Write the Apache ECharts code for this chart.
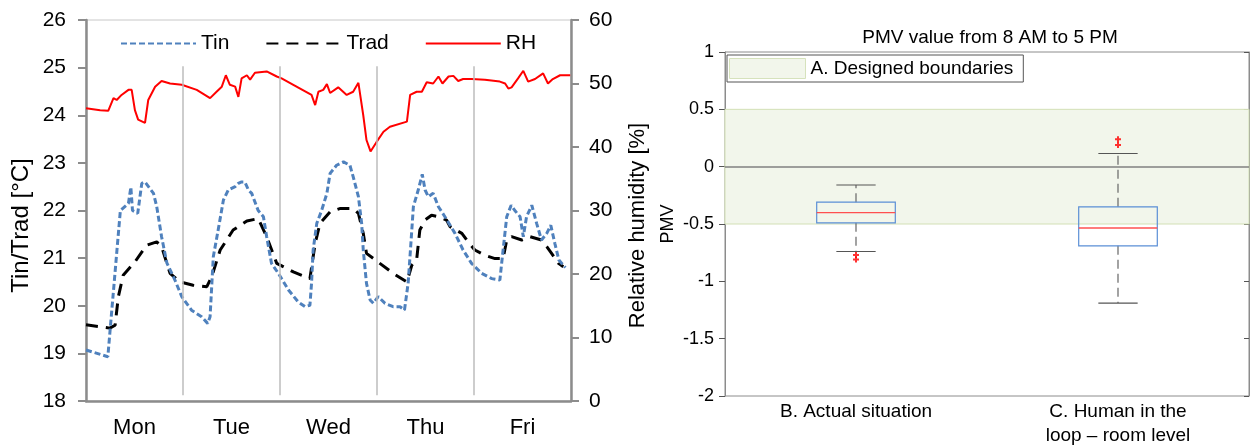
<!DOCTYPE html>
<html>
<head>
<meta charset="utf-8">
<script src="https://cdn.jsdelivr.net/npm/echarts@6/dist/echarts.min.js"></script>
<style>
  html, body { margin: 0; padding: 0; background: #fff; }
  #chart { width: 1250px; height: 448px; }
</style>
</head>
<body>
<div id="chart"></div>
<script>
// time axis in hours from Monday 00:00 (5 days)
var dayNames = ["Mon", "Tue", "Wed", "Thu", "Fri"];
var daySeparators = [24, 48, 72, 96];

// [hour, value]
var tin = [
  [0, 19.07], [5.4, 18.93], [8.5, 22.0], [10.5, 22.15], [11.1, 22.49], [11.5, 22.0],
  [12.8, 21.94], [13.8, 22.57], [14.6, 22.6], [16.7, 22.36], [17.5, 22.08], [18.7, 21.45],
  [20.0, 20.9], [22.0, 20.54], [23.7, 20.19], [26.2, 19.9], [28.6, 19.77], [30.1, 19.63],
  [30.7, 19.77], [31.5, 21.03], [32.7, 21.59], [34.0, 22.22], [35.2, 22.43], [36.9, 22.5],
  [37.7, 22.57], [38.5, 22.6], [39.3, 22.6], [40.2, 22.43], [41.0, 22.36], [42.6, 22.0],
  [43.9, 21.87], [44.7, 21.45], [45.9, 20.89], [47.6, 20.68], [50.1, 20.33], [52.5, 20.08],
  [54.2, 19.98], [55.4, 20.01], [55.8, 20.47], [56.2, 21.17], [57.1, 21.73], [58.3, 22.0],
  [59.6, 22.36], [60.4, 22.78], [62.0, 22.95], [63.7, 23.02], [65.3, 22.95], [66.1, 22.71],
  [67.4, 22.29], [68.2, 21.73], [68.6, 21.17], [69.4, 20.47], [70.3, 20.12], [71.1, 20.05],
  [72.3, 20.19], [74.0, 20.05], [76.0, 19.98], [77.7, 19.98], [78.8, 19.91], [79.7, 20.47],
  [80.3, 21.2], [81.0, 22.08], [82.2, 22.43], [83.2, 22.76], [83.9, 22.43], [84.7, 22.29],
  [85.9, 22.36], [87.2, 22.08], [88.8, 21.87], [91.3, 21.52], [93.3, 21.17], [95.4, 20.89],
  [97.9, 20.68], [100.4, 20.57], [102.4, 20.54], [103.2, 21.17], [104.1, 21.87], [105.2, 22.11],
  [106.1, 22.0], [107.4, 21.87], [108.2, 21.45], [109.0, 21.87], [110.3, 22.11], [111.5, 21.73],
  [112.7, 21.38], [114.0, 21.52], [115.0, 21.69], [116.0, 21.31], [117.0, 20.96], [118.6, 20.8]
];

var trad = [
  [0, 19.6], [5.9, 19.53], [7.2, 19.59], [8.0, 20.19], [9.2, 20.64], [12.1, 20.92],
  [15.0, 21.27], [17.5, 21.34], [18.7, 21.24], [20.8, 20.68], [23.3, 20.5], [26.5, 20.43],
  [29.9, 20.4], [31.1, 20.61], [33.2, 21.17], [36.4, 21.59], [39.8, 21.78], [42.6, 21.83],
  [44.7, 21.45], [47.2, 20.89], [51.3, 20.71], [55.4, 20.57], [56.7, 21.31], [57.9, 21.73],
  [60.4, 21.97], [62.8, 22.04], [66.1, 22.04], [67.4, 21.94], [68.6, 21.52], [69.4, 21.1],
  [72.7, 20.89], [76.0, 20.68], [79.4, 20.5], [80.6, 20.85], [81.8, 20.96], [82.6, 21.59],
  [83.9, 21.8], [85.5, 21.9], [87.2, 21.87], [89.2, 21.8], [90.1, 21.66], [93.0, 21.52],
  [94.2, 21.38], [96.2, 21.17], [98.7, 21.06], [101.2, 20.99], [103.2, 20.99], [104.1, 21.38],
  [105.3, 21.45], [107.8, 21.38], [109.9, 21.45], [112.7, 21.38], [114.0, 21.24], [115.2, 21.1],
  [116.9, 20.89], [118.1, 20.82]
];

var rh = [
  [0, 46.1], [3.5, 45.8], [5.5, 45.7], [6.8, 47.7], [7.6, 47.4], [8.8, 48.2], [10.5, 49.0],
  [11.3, 49.0], [12.1, 45.8], [12.9, 44.3], [14.6, 43.8], [15.4, 47.4], [17.1, 49.5],
  [18.7, 50.4], [20.8, 50.0], [23.7, 49.8], [27.4, 49.0], [30.7, 47.7], [32.3, 48.7],
  [33.6, 49.5], [34.6, 51.3], [35.6, 49.8], [36.9, 49.5], [37.7, 47.9], [38.5, 50.8],
  [39.8, 51.3], [40.6, 50.6], [41.8, 51.7], [44.7, 51.9], [47.2, 51.1], [48.4, 50.8],
  [51.3, 49.8], [55.8, 48.2], [56.7, 46.6], [57.5, 48.7], [58.7, 49.0], [59.6, 49.9],
  [60.4, 48.5], [62.4, 49.4], [64.5, 48.2], [66.1, 48.7], [67.4, 50.1], [68.6, 45.0],
  [69.4, 41.1], [70.4, 39.3], [71.9, 40.8], [73.6, 42.4], [75.2, 43.2], [79.4, 44.0],
  [80.2, 48.2], [81.8, 48.7], [83.1, 48.7], [84.3, 50.2], [85.9, 50.0], [87.2, 51.1],
  [88.2, 50.0], [89.7, 51.1], [90.9, 51.2], [92.1, 50.4], [93.3, 50.7], [95.4, 50.7],
  [98.7, 50.6], [102.4, 50.3], [103.7, 50.0], [104.5, 49.2], [105.3, 49.4], [106.9, 50.8],
  [108.2, 52.0], [109.4, 50.3], [111.1, 50.7], [113.1, 51.6], [114.3, 50.0], [115.5, 50.7],
  [117.3, 51.3], [119.8, 51.3]
];

// PMV boxplot: [low whisker, q1, median, q3, high whisker]
var pmvCategories = ["B. Actual situation", "C. Human in the\nloop \u2013 room level"];
var pmvBoxes = [
  [-0.74, -0.49, -0.40, -0.31, -0.16],
  [-1.19, -0.69, -0.535, -0.35, 0.115]
];
var pmvOutliers = [[0, -0.77], [0, -0.81], [1, 0.24], [1, 0.19]];
var comfortBand = [-0.5, 0.5];

var font = "Liberation Sans, Arial, sans-serif";
var axisGray = "#8c8c8c";

var myChart = echarts.init(document.getElementById("chart"));

var sepLines = daySeparators.map(function (h) {
  return [{ coord: [h, 18.12] }, { coord: [h, 25.03] }];
});

var boxData = pmvBoxes.map(function (b, i) {
  return [i].concat(b);
});

myChart.setOption({
  animation: false,
  textStyle: { fontFamily: font, color: "#000" },
  title: {
    text: "PMV value from 8 AM to 5 PM",
    left: 985,
    textAlign: "center",
    top: 23,
    textStyle: { fontFamily: font, fontSize: 19, fontWeight: "normal", color: "#000" }
  },
  legend: [
    {
      left: 120,
      top: 33,
      padding: 0,
      itemWidth: 75,
      itemHeight: 14,
      itemGap: 36,
      itemStyle: { opacity: 0 },
      textStyle: { fontFamily: font, fontSize: 21, color: "#000" },
      data: ["Tin", "Trad", "RH"]
    },
    {
      left: 727,
      top: 55,
      padding: [3, 10, 3, 2],
      borderColor: "#555",
      borderWidth: 1,
      borderRadius: 0,
      backgroundColor: "#fff",
      itemWidth: 76,
      itemHeight: 20,
      textStyle: { fontFamily: font, fontSize: 19, color: "#000" },
      data: [{
        name: "A. Designed boundaries",
        icon: "rect",
        itemStyle: { color: "#f2f6eb", borderColor: "#d6e2bc", borderWidth: 1, opacity: 1 }
      }]
    }
  ],
  grid: [
    { left: 86, right: 679, top: 20, bottom: 47, show: true, borderColor: "#c8c8c8", borderWidth: 1 },
    { left: 725, right: 1, top: 52, bottom: 47, show: true, borderColor: "#8c8c8c", borderWidth: 1 }
  ],
  xAxis: [
    {
      gridIndex: 0,
      type: "value",
      min: 0,
      max: 120,
      interval: 12,
      axisLine: { show: true, lineStyle: { color: axisGray, width: 2.5 } },
      axisTick: { show: false },
      splitLine: { show: false },
      axisLabel: {
        fontSize: 22,
        color: "#000",
        margin: 16,
        showMinLabel: true,
        showMaxLabel: true,
        formatter: function (v) {
          var d = (v - 12) / 24;
          return (d >= 0 && d === Math.floor(d)) ? dayNames[d] : "";
        }
      }
    },
    {
      gridIndex: 1,
      type: "category",
      data: pmvCategories,
      axisLine: { show: true, lineStyle: { color: axisGray, width: 1 } },
      axisTick: { show: false },
      axisLabel: { fontSize: 19, color: "#000", margin: 4, lineHeight: 24 }
    }
  ],
  yAxis: [
    {
      gridIndex: 0,
      type: "value",
      min: 18,
      max: 26,
      interval: 1,
      name: "Tin/Trad [\u00b0C]",
      nameLocation: "middle",
      nameGap: 53,
      nameTextStyle: { fontSize: 24, color: "#000", padding: [0, 30, 0, 0] },
      axisLine: { show: true, lineStyle: { color: axisGray, width: 2.5 } },
      axisTick: { show: true, length: 8, lineStyle: { color: axisGray, width: 2 } },
      splitLine: { show: false },
      axisLabel: { fontSize: 21, color: "#000", margin: 20 }
    },
    {
      gridIndex: 0,
      type: "value",
      position: "right",
      min: 0,
      max: 60,
      interval: 10,
      name: "Relative humidity [%]",
      nameLocation: "middle",
      nameGap: 56,
      nameRotate: 90,
      nameTextStyle: { fontSize: 22, color: "#000", padding: [0, 30, 0, 0] },
      axisLine: { show: true, lineStyle: { color: axisGray, width: 2.5 } },
      axisTick: { show: true, length: 8, lineStyle: { color: axisGray, width: 2 } },
      splitLine: { show: false },
      axisLabel: { fontSize: 21, color: "#000", margin: 18 }
    },
    {
      gridIndex: 1,
      type: "value",
      min: -2,
      max: 1,
      interval: 0.5,
      name: "PMV",
      nameLocation: "middle",
      nameGap: 48,
      nameTextStyle: { fontSize: 18, color: "#000" },
      axisLine: { show: true, lineStyle: { color: axisGray, width: 1 } },
      axisTick: { show: true, length: 6, lineStyle: { color: "#555" } },
      splitLine: { show: false },
      axisLabel: { fontSize: 18, color: "#000", margin: 11 }
    },
    {
      gridIndex: 1,
      type: "value",
      position: "right",
      min: -2,
      max: 1,
      interval: 0.5,
      axisLine: { show: true, lineStyle: { color: axisGray, width: 1 } },
      axisTick: { show: true, inside: true, length: 5, lineStyle: { color: "#555" } },
      splitLine: { show: false },
      axisLabel: { show: false }
    }
  ],
  series: [
    {
      name: "Tin",
      type: "line",
      xAxisIndex: 0,
      yAxisIndex: 0,
      data: tin,
      showSymbol: false,
      symbol: "none",
      color: "#4f81bd",
      lineStyle: { color: "#4f81bd", width: 3, type: [6, 3] },
      markLine: {
        silent: true,
        symbol: "none",
        label: { show: false },
        lineStyle: { color: "#bdbdbd", width: 1.5, type: "solid" },
        data: sepLines
      },
      z: 3
    },
    {
      name: "Trad",
      type: "line",
      xAxisIndex: 0,
      yAxisIndex: 0,
      data: trad,
      showSymbol: false,
      symbol: "none",
      color: "#000",
      lineStyle: { color: "#000", width: 3, type: [12, 8] },
      z: 2
    },
    {
      name: "RH",
      type: "line",
      xAxisIndex: 0,
      yAxisIndex: 1,
      data: rh,
      showSymbol: false,
      symbol: "none",
      color: "#ff0000",
      lineStyle: { color: "#ff0000", width: 2 },
      z: 2
    },
    {
      name: "A. Designed boundaries",
      type: "line",
      xAxisIndex: 1,
      yAxisIndex: 2,
      data: [],
      color: "#f2f6eb",
      markArea: {
        silent: true,
        itemStyle: { color: "#f2f6eb", borderColor: "#d3e0b5", borderWidth: 1 },
        data: [[{ yAxis: comfortBand[0] }, { yAxis: comfortBand[1] }]]
      },
      markLine: {
        silent: true,
        symbol: "none",
        label: { show: false },
        lineStyle: { color: "#808080", width: 1.5, type: "solid" },
        data: [{ yAxis: 0 }]
      },
      z: 1
    },
    {
      name: "PMV box",
      type: "custom",
      xAxisIndex: 1,
      yAxisIndex: 2,
      data: boxData,
      encode: { x: 0, y: [1, 2, 3, 4, 5] },
      renderItem: function (params, api) {
        var c = api.value(0);
        var pLow = api.coord([c, api.value(1)]);
        var pQ1 = api.coord([c, api.value(2)]);
        var pMed = api.coord([c, api.value(3)]);
        var pQ3 = api.coord([c, api.value(4)]);
        var pHigh = api.coord([c, api.value(5)]);
        var band = api.size([1, 0])[0];
        var hw = band * 0.15;
        var cw = band * 0.075;
        var x = pMed[0];
        var whisker = { stroke: "#666", lineWidth: 1.2, lineDash: [9, 5], fill: null };
        var cap = { stroke: "#555", lineWidth: 1.2, fill: null };
        return {
          type: "group",
          children: [
            { type: "line", shape: { x1: x, y1: pQ3[1], x2: x, y2: pHigh[1] }, style: whisker },
            { type: "line", shape: { x1: x, y1: pQ1[1], x2: x, y2: pLow[1] }, style: whisker },
            { type: "line", shape: { x1: x - cw, y1: pHigh[1], x2: x + cw, y2: pHigh[1] }, style: cap },
            { type: "line", shape: { x1: x - cw, y1: pLow[1], x2: x + cw, y2: pLow[1] }, style: cap },
            {
              type: "rect",
              shape: { x: x - hw, y: pQ3[1], width: hw * 2, height: pQ1[1] - pQ3[1] },
              style: { stroke: "#5b8fd6", lineWidth: 1.2, fill: null }
            },
            { type: "line", shape: { x1: x - hw, y1: pMed[1], x2: x + hw, y2: pMed[1] }, style: { stroke: "#ff5050", lineWidth: 1.3 } }
          ]
        };
      },
      z: 4
    },
    {
      name: "PMV outliers",
      type: "scatter",
      xAxisIndex: 1,
      yAxisIndex: 2,
      data: pmvOutliers,
      symbol: "path://M2,0H4V2H6V4H4V6H2V4H0V2H2Z",
      symbolSize: 6,
      itemStyle: { color: "#ff0000" },
      z: 5
    }
  ]
});
</script>
</body>
</html>
